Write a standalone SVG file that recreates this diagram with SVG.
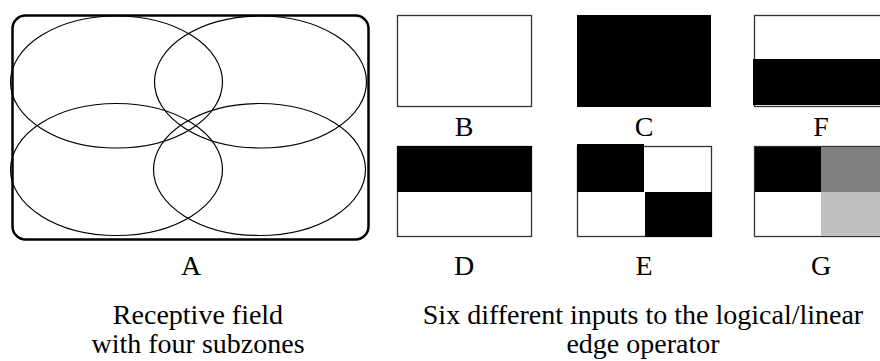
<svg xmlns="http://www.w3.org/2000/svg" width="880" height="361" viewBox="0 0 880 361">
<style>
  .lbl { font-family: 'Liberation Serif', 'Times New Roman', Times, 'DejaVu Serif', serif; font-size: 28px; fill: #000; text-anchor: middle; }
  .box { fill: #fff; stroke: #333; stroke-width: 1.3; }
  .blk { fill: #000; }
  .zone { fill: none; stroke: #000; stroke-width: 1.2; }
</style>
<rect width="880" height="361" fill="#fff"/>

<g id="A">
  <rect x="12.5" y="15.5" width="356" height="224" rx="13" ry="13" fill="none" stroke="#000" stroke-width="2.5"/>
  <ellipse class="zone" cx="116.5" cy="82" rx="106" ry="66"/>
  <ellipse class="zone" cx="260.5" cy="82" rx="106" ry="66"/>
  <ellipse class="zone" cx="116.5" cy="169.5" rx="106" ry="66"/>
  <ellipse class="zone" cx="259.5" cy="169.5" rx="106" ry="66"/>
  <text class="lbl" x="191" y="275">A</text>
</g>

<g id="B">
  <rect class="box" x="397.5" y="15.5" width="134" height="91"/>
  <text class="lbl" x="464" y="136">B</text>
</g>

<g id="C">
  <rect class="blk" x="577" y="15" width="134" height="92"/>
  <text class="lbl" x="644" y="136">C</text>
</g>

<g id="F">
  <rect class="box" x="754.5" y="15.5" width="134" height="91"/>
  <rect class="blk" x="753" y="59" width="130" height="46"/>
  <text class="lbl" x="821" y="136">F</text>
</g>

<g id="D">
  <rect class="box" x="397.5" y="146.5" width="134" height="90"/>
  <rect class="blk" x="397" y="146" width="135" height="46"/>
  <text class="lbl" x="464" y="275">D</text>
</g>

<g id="E">
  <rect class="box" x="577.5" y="146.5" width="134" height="90"/>
  <rect class="blk" x="577" y="144" width="67" height="48"/>
  <rect class="blk" x="645" y="192" width="67" height="45"/>
  <text class="lbl" x="644" y="275">E</text>
</g>

<g id="G">
  <rect class="box" x="754.5" y="146.5" width="134" height="90"/>
  <rect class="blk" x="755" y="147" width="66" height="45"/>
  <rect x="821" y="147" width="67" height="45" fill="#808080"/>
  <rect x="821" y="192" width="67" height="44" fill="#c0c0c0"/>
  <text class="lbl" x="821" y="275">G</text>
</g>

<g id="captions">
  <text class="lbl" x="198" y="324">Receptive field</text>
  <text class="lbl" x="198" y="353">with four subzones</text>
  <text class="lbl" x="643" y="324">Six different inputs to the logical/linear</text>
  <text class="lbl" x="643" y="353">edge operator</text>
</g>

<g id="connectors"></g>
</svg>
